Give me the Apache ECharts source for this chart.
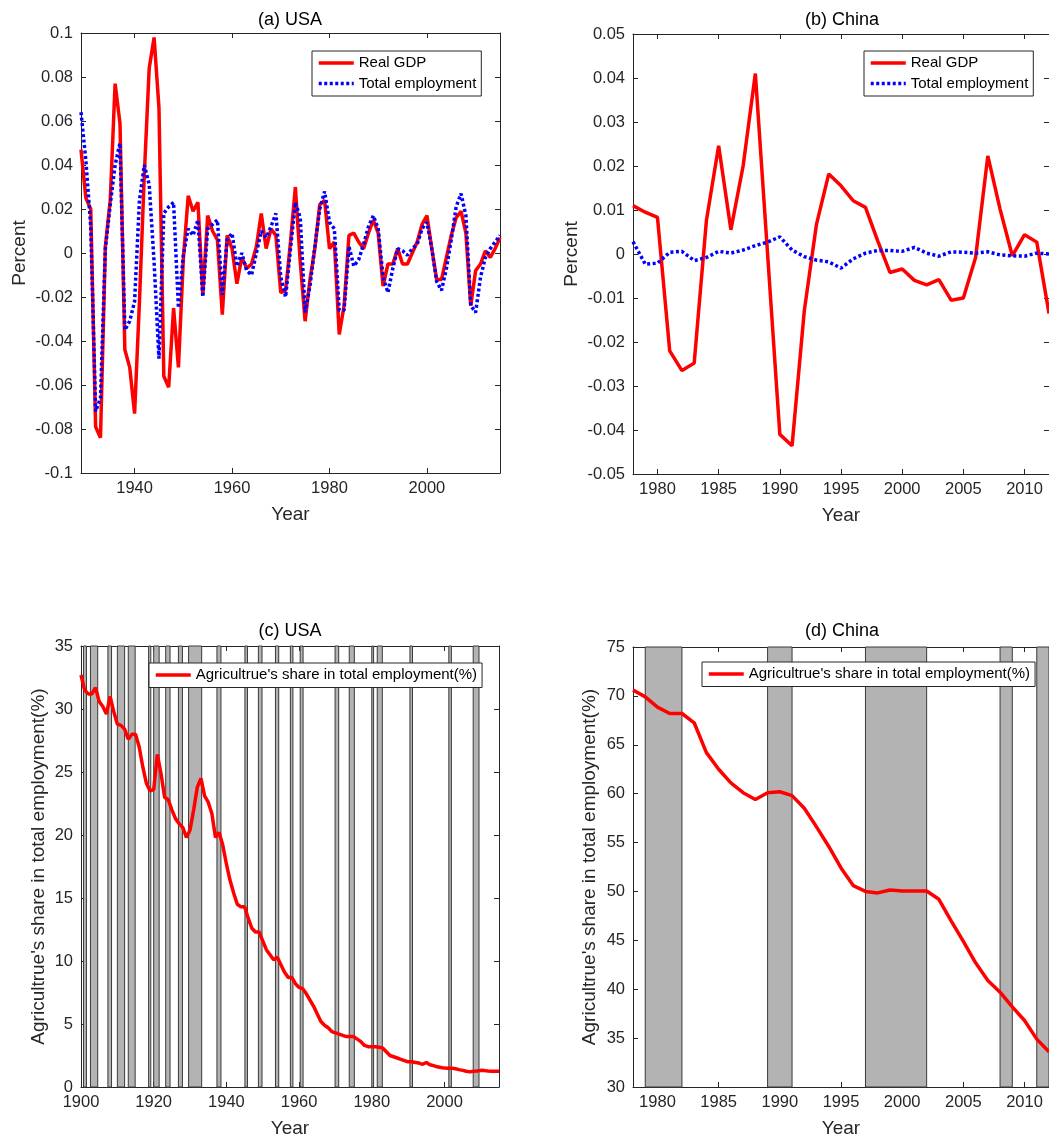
<!DOCTYPE html>
<html>
<head>
<meta charset="utf-8">
<title>Output fluctuations and agriculture share</title>
<script src="https://cdn.jsdelivr.net/npm/echarts@6/dist/echarts.min.js"></script>
<style>
  html, body { margin: 0; padding: 0; background: #fff; }
  #chart { width: 1049px; height: 1139px; }
</style>
</head>
<body>
<div id="chart"></div>
<script>
// ---- data ----
const usStartYear = 1929;   // (a) 1929-2015
const usGdp = [
  0.047, 0.025, 0.020, -0.079, -0.084, 0.003, 0.024, 0.077, 0.059, -0.044,
  -0.052, -0.073, -0.022, 0.036, 0.084, 0.098, 0.066, -0.056, -0.061, -0.025,
  -0.052, -0.003, 0.026, 0.019, 0.023, -0.019, 0.017, 0.010, 0.006, -0.028,
  0.008, 0.002, -0.014, -0.002, -0.007, -0.005, 0.003, 0.018, 0.002, 0.011,
  0.008, -0.018, -0.017, 0.005, 0.030, -0.004, -0.031, -0.012, 0.002, 0.022,
  0.024, 0.002, 0.005, -0.037, -0.024, 0.008, 0.009, 0.005, 0.002, 0.009,
  0.015, 0.009, -0.015, -0.005, -0.005, 0.002, -0.005, -0.005, 0.000, 0.005,
  0.013, 0.017, 0.002, -0.012, -0.012, -0.002, 0.008, 0.016, 0.019, 0.009,
  -0.024, -0.008, -0.005, 0.001, -0.002, 0.002, 0.007
];
const usEmp = [
  0.064, 0.042, 0.012, -0.072, -0.066, 0.002, 0.022, 0.040, 0.050, -0.035,
  -0.031, -0.022, 0.024, 0.040, 0.031, -0.004, -0.048, 0.018, 0.021, 0.023,
  -0.025, -0.001, 0.011, 0.008, 0.015, -0.020, 0.011, 0.013, 0.015, -0.019,
  0.006, 0.009, -0.006, 0.000, -0.008, -0.010, 0.000, 0.010, 0.007, 0.012,
  0.018, -0.011, -0.020, 0.002, 0.023, 0.016, -0.027, -0.015, 0.003, 0.020,
  0.028, 0.014, 0.011, -0.026, -0.026, 0.003, -0.006, -0.003, 0.004, 0.012,
  0.017, 0.011, -0.011, -0.018, -0.007, 0.002, 0.001, -0.001, 0.002, 0.004,
  0.011, 0.014, 0.002, -0.013, -0.017, -0.007, 0.006, 0.021, 0.027, 0.017,
  -0.024, -0.027, -0.011, -0.002, 0.002, 0.005, 0.008
];

const cnStartYear = 1978;   // (b) and (d) 1978-2012
const cnGdp = [
  0.011, 0.0095, 0.0083, -0.022, -0.0265, -0.0248, 0.0076, 0.0246, 0.0055, 0.020,
  0.041, 0.000, -0.041, -0.0436, -0.0129, 0.0068, 0.0182, 0.0155, 0.0121, 0.0106,
  0.003, -0.0042, -0.0034, -0.006, -0.007, -0.0058, -0.0105, -0.010, -0.0008, 0.0223,
  0.0102, -0.0004, 0.0044, 0.0027, -0.0135
];
const cnEmp = [
  0.0028, -0.0023, -0.0021, 0.0004, 0.0006, -0.0015, -0.0008, 0.0006, 0.0002, 0.0009,
  0.0019, 0.0027, 0.0039, 0.0009, -0.0006, -0.0014, -0.0018, -0.0032, -0.0011, 0.0002,
  0.0008, 0.0008, 0.0006, 0.0015, 0.0002, -0.0005, 0.0005, 0.0004, 0.0002, 0.0005,
  -0.0002, -0.0004, -0.0005, 0.0002, 0.0
];

const usAgStartYear = 1900; // (c) 1900-2015
const usAgShare = [
  32.7, 31.5, 31.2, 31.2, 31.7, 30.6, 30.2, 29.6, 31.0, 29.8,
  28.8, 28.7, 28.4, 27.6, 28.0, 28.0, 27.0, 25.4, 24.1, 23.5,
  23.6, 26.4, 24.9, 23.0, 22.8, 22.0, 21.3, 20.9, 20.6, 19.8,
  20.4, 22.0, 23.8, 24.5, 23.1, 22.6, 21.7, 19.8, 20.2, 19.2,
  17.7, 16.4, 15.4, 14.5, 14.3, 14.3, 13.4, 12.6, 12.3, 12.3,
  11.6, 10.9, 10.5, 10.1, 10.3, 9.7, 9.1, 8.7, 8.7, 8.2,
  7.9, 7.8, 7.4, 6.9, 6.4, 5.8, 5.2, 4.9, 4.7, 4.4,
  4.3, 4.2, 4.1, 4.0, 4.0, 4.0, 3.8, 3.6, 3.3, 3.2,
  3.2, 3.2, 3.15, 3.1, 2.8, 2.5, 2.4, 2.3, 2.2, 2.1,
  2.0, 2.0, 1.95, 1.9, 1.8, 1.95, 1.77, 1.7, 1.6, 1.55,
  1.5, 1.48, 1.5, 1.45, 1.38, 1.32, 1.25, 1.2, 1.25, 1.27,
  1.32, 1.3, 1.27, 1.25, 1.25, 1.25
];
const cnAgShare = [
  70.6, 69.9, 68.85, 68.2, 68.2, 67.25, 64.2, 62.5, 61.1, 60.1,
  59.4, 60.1, 60.2, 59.8, 58.5, 56.6, 54.6, 52.4, 50.6, 50.0,
  49.85, 50.15, 50.05, 50.05, 50.05, 49.2, 47.0, 44.9, 42.7, 40.9,
  39.7, 38.2, 36.8, 34.9, 33.6
];

// shaded periods [start, end]
const usRecessions = [
  [1900.7, 1901.5], [1902.6, 1904.6], [1907.4, 1908.4], [1910.0, 1912.0], [1913.0, 1914.9],
  [1918.6, 1919.2], [1920.0, 1921.5], [1923.3, 1924.5], [1926.8, 1927.9], [1929.6, 1933.2],
  [1937.4, 1938.5], [1945.1, 1945.8], [1948.8, 1949.8], [1953.5, 1954.4], [1957.6, 1958.3],
  [1960.3, 1961.1], [1969.9, 1970.9], [1973.8, 1975.2], [1980.0, 1980.5], [1981.5, 1982.9],
  [1990.5, 1991.2], [2001.2, 2001.9], [2007.9, 2009.5]
];
const cnRecessions = [[1979, 1982], [1989, 1991], [1997, 2002], [2008, 2009], [2011, 2012]];

const usTicks = [1940, 1960, 1980, 2000];
const cnTicks = [1980, 1985, 1990, 1995, 2000, 2005, 2010];
const usAgTicks = [1900, 1920, 1940, 1960, 1980, 2000];

const gdpName = 'Real GDP';
const empName = 'Total employment';
const agName = "Agricultrue's share in total employment(%)";

// ---- helpers ----
const axisColor = '#262626';
const font = '"Liberation Sans", Arial, sans-serif';
const lineW = 3.5;
const dotted = [3, 2.5];

function pairs(start, values) {
  return values.map((v, i) => [start + i, v]);
}

function xBottom(grid, min, max, ticks) {
  return {
    type: 'value', gridIndex: grid, min: min, max: max,
    name: 'Year', nameLocation: 'middle', nameGap: 32,
    nameTextStyle: { fontSize: 19, color: axisColor, fontFamily: font },
    axisLine: { onZero: false, lineStyle: { color: axisColor, width: 1 } },
    axisTick: { inside: true, length: 5, customValues: ticks, lineStyle: { color: axisColor } },
    axisLabel: {
      customValues: ticks, fontSize: 16.5, color: axisColor, margin: 7, fontFamily: font,
      formatter: v => String(v)  // no thousands separator on years
    },
    splitLine: { show: false }
  };
}
function xTop(grid, min, max, ticks) {
  return {
    type: 'value', gridIndex: grid, position: 'top', min: min, max: max,
    axisLine: { onZero: false, lineStyle: { color: axisColor, width: 1 } },
    axisTick: { inside: true, length: 5, customValues: ticks, lineStyle: { color: axisColor } },
    axisLabel: { show: false },
    splitLine: { show: false }
  };
}
function yLeft(grid, min, max, step, name, gap) {
  return {
    type: 'value', gridIndex: grid, min: min, max: max, interval: step,
    name: name, nameLocation: 'middle', nameGap: gap,
    nameTextStyle: { fontSize: 19, color: axisColor, fontFamily: font },
    axisLine: { show: true, onZero: false, lineStyle: { color: axisColor, width: 1 } },
    axisTick: { show: true, inside: true, length: 5, lineStyle: { color: axisColor } },
    axisLabel: { fontSize: 16.5, color: axisColor, margin: 8, fontFamily: font },
    splitLine: { show: false }
  };
}
function yRight(grid, min, max, step) {
  return {
    type: 'value', gridIndex: grid, position: 'right', min: min, max: max, interval: step,
    axisLine: { show: true, onZero: false, lineStyle: { color: axisColor, width: 1 } },
    axisTick: { show: true, inside: true, length: 5, lineStyle: { color: axisColor } },
    axisLabel: { show: false },
    splitLine: { show: false }
  };
}
function lineSeries(name, axis, data, color, dash) {
  return {
    type: 'line', name: name, xAxisIndex: axis, yAxisIndex: axis,
    data: data, symbol: 'none', showSymbol: false, z: 3,
    lineStyle: { color: color, width: lineW, type: dash || 'solid', cap: 'butt' },
    itemStyle: { color: color },
    emphasis: { disabled: true }
  };
}
function shading(axis, periods) {
  return {
    type: 'line', xAxisIndex: axis, yAxisIndex: axis, data: [], silent: true,
    markArea: {
      silent: true,
      itemStyle: { color: '#b3b3b3', opacity: 1, borderColor: '#3a3a3a', borderWidth: 1 },
      data: periods.map(p => [{ xAxis: p[0] }, { xAxis: p[1] }])
    }
  };
}
function legendBox(left, top, names) {
  return {
    left: left, top: top, orient: 'vertical', data: names,
    itemWidth: 35, itemHeight: 15, itemGap: 5.5,
    padding: [4.5, 5, 5, 5],
    borderColor: axisColor, borderWidth: 1, backgroundColor: '#fff',
    itemStyle: { opacity: 0 },   // line sample only, no marker
    lineStyle: { width: lineW },
    textStyle: { fontSize: 15, color: '#000', fontFamily: font },
    selectedMode: false
  };
}
function titleAt(text, x, y) {
  return {
    text: text, left: x, top: y, textAlign: 'center', padding: 0,
    textStyle: { fontSize: 18, fontWeight: 'normal', color: '#000', fontFamily: font }
  };
}

const chart = echarts.init(document.getElementById('chart'));
chart.setOption({
  animation: false,
  backgroundColor: '#fff',
  title: [
    titleAt('(a) USA', 290, 11),
    titleAt('(b) China', 842, 11),
    titleAt('(c) USA', 290, 622),
    titleAt('(d) China', 842, 622)
  ],
  legend: [
    legendBox(312, 51, [gdpName, empName]),
    legendBox(864, 51, [gdpName, empName]),
    legendBox(149, 663, [agName]),
    legendBox(702, 662, [agName])
  ],
  grid: [
    { left: 81, top: 33, width: 419, height: 440 },
    { left: 633, top: 34, width: 419, height: 440 },
    { left: 81, top: 646, width: 418, height: 441 },
    { left: 633, top: 647, width: 419, height: 440 }
  ],
  xAxis: [
    xBottom(0, 1929, 2015, usTicks),
    xBottom(1, 1978, 2012, cnTicks),
    xBottom(2, 1900, 2015, usAgTicks),
    xBottom(3, 1978, 2012, cnTicks),
    xTop(0, 1929, 2015, usTicks),
    xTop(1, 1978, 2012, cnTicks),
    xTop(2, 1900, 2015, usAgTicks),
    xTop(3, 1978, 2012, cnTicks)
  ],
  yAxis: [
    yLeft(0, -0.1, 0.1, 0.02, 'Percent', 52),
    yLeft(1, -0.05, 0.05, 0.01, 'Percent', 52),
    yLeft(2, 0, 35, 5, agName, 33),
    yLeft(3, 30, 75, 5, agName, 34),
    yRight(0, -0.1, 0.1, 0.02),
    yRight(1, -0.05, 0.05, 0.01),
    yRight(2, 0, 35, 5),
    yRight(3, 30, 75, 5)
  ],
  series: [
    lineSeries(gdpName, 0, pairs(usStartYear, usGdp), '#ff0000'),
    lineSeries(empName, 0, pairs(usStartYear, usEmp), '#0000ff', dotted),
    lineSeries(gdpName, 1, pairs(cnStartYear, cnGdp), '#ff0000'),
    lineSeries(empName, 1, pairs(cnStartYear, cnEmp), '#0000ff', dotted),
    shading(2, usRecessions),
    lineSeries(agName, 2, pairs(usAgStartYear, usAgShare), '#ff0000'),
    shading(3, cnRecessions),
    lineSeries(agName, 3, pairs(cnStartYear, cnAgShare), '#ff0000')
  ]
});
</script>
</body>
</html>
